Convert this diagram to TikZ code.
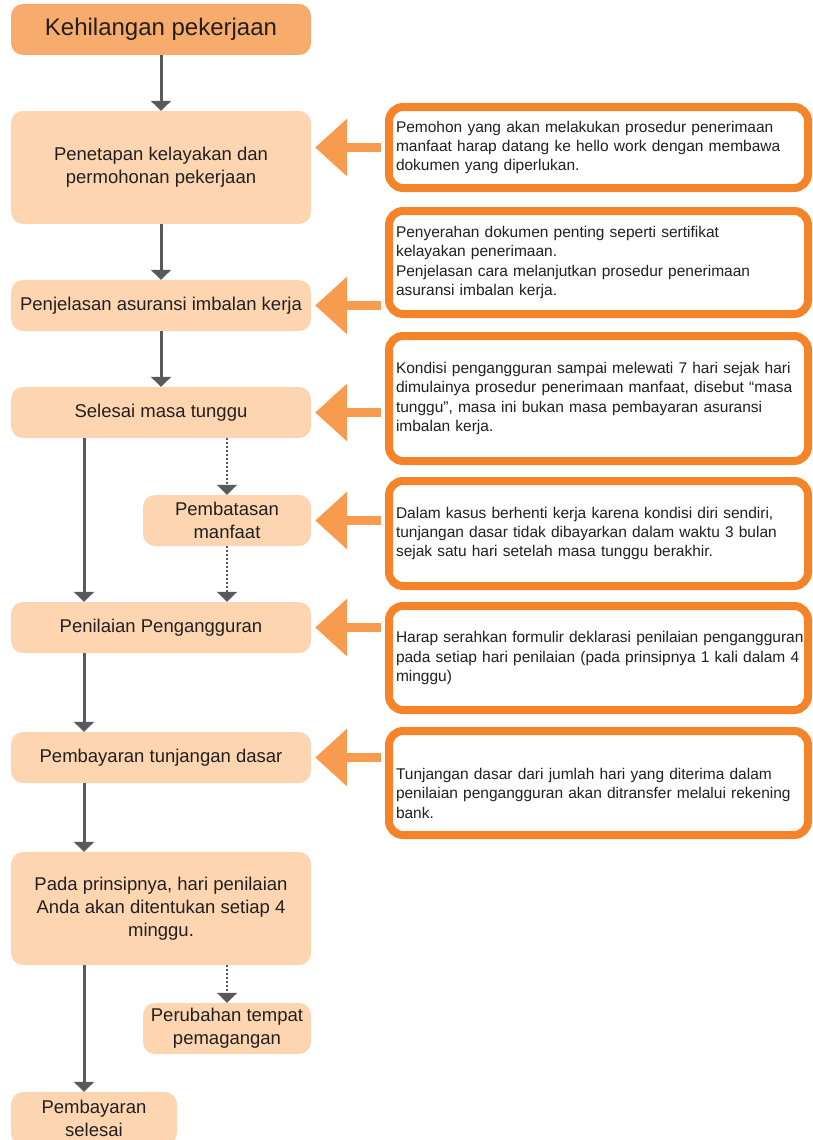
\documentclass[tikz,border=0pt]{standalone}
\usepackage{fontspec}
\setmainfont{Liberation Sans}
\usepackage{tikz}
\usetikzlibrary{positioning,arrows.meta,calc}
\definecolor{hwpeach}{HTML}{FDD6B1}
\definecolor{hwtitle}{HTML}{F7AB6C}
\definecolor{hworange}{HTML}{F4832A}
\definecolor{hwarrow}{HTML}{F79B4F}
\definecolor{hwgrey}{HTML}{58595B}
\definecolor{hwtext}{HTML}{231F20}

\begin{document}
\begin{tikzpicture}[x=1pt, y=-1pt,
   stage/.style={fill=hwpeach, rounded corners=12pt, minimum width=300pt,
                 minimum height=51pt, align=center, text=hwtext, inner sep=2pt,
                 font=\fontsize{18.5}{23}\selectfont},
   side/.style={stage, minimum width=168pt},
   head/.style={stage, fill=hwtitle, font=\fontsize{24}{28}\selectfont},
   note/.style={draw=hworange, line width=8pt, fill=white, rounded corners=14pt,
                minimum width=419pt, inner xsep=7pt, text width=405pt,
                align=left, text=hwtext, font=\fontsize{15.5}{19.3}\selectfont},
   flow/.style={hwgrey, line width=3pt, -{Triangle[length=10pt,width=20pt]}},
   maybe/.style={flow, line width=2pt, dash pattern=on 2pt off 2pt},
   call/.style={hwarrow, line width=9pt, shorten <=4pt, shorten >=4pt,
                -{Triangle[length=32pt,width=56pt]}}]
  \useasboundingbox (0,0) rectangle (812,1140);
  \coordinate (lane) at (84,0);

  % left column
  \node[head] (keh) at (161,29.5) {Kehilangan pekerjaan};
  \node[stage, minimum height=113pt] (pen) at (161,167.5) {Penetapan kelayakan dan\\permohonan pekerjaan};
  \node[stage] (penj) at (161,305.5) {Penjelasan asuransi imbalan kerja};
  \node[stage] (sel) at (161,412.5) {Selesai masa tunggu};
  \node[side] (bat) at (227,520.5) {Pembatasan\\manfaat};
  \node[stage] (nil) at (161,627.5) {Penilaian Pengangguran};
  \node[stage] (bay) at (161,757.5) {Pembayaran tunjangan dasar};
  \node[stage, minimum height=113pt] (pada) at (161,908.5) {Pada prinsipnya, hari penilaian\\Anda akan ditentukan setiap 4\\minggu.};
  \node[side] (ubah) at (227,1028.5) {Perubahan tempat\\pemagangan};
  \node[stage, minimum width=166pt, minimum height=53pt] (done) at (94,1118.5) {Pembayaran\\selesai};

  % right column
  \node[note, minimum height=81pt] (n1) at (598.5,147.5) {Pemohon yang akan melakukan prosedur penerimaan\\manfaat harap datang ke hello work dengan membawa\\dokumen yang diperlukan.};
  \node[note, minimum height=103pt] (n2) at (598.5,262.5) {Penyerahan dokumen penting seperti sertifikat\\kelayakan penerimaan.\\Penjelasan cara melanjutkan prosedur penerimaan\\asuransi imbalan kerja.};
  \node[note, minimum height=125pt] (n3) at (598.5,398.5) {Kondisi pengangguran sampai melewati 7 hari sejak hari\\dimulainya prosedur penerimaan manfaat, disebut “masa\\tunggu”, masa ini bukan masa pembayaran asuransi\\imbalan kerja.};
  \node[note, minimum height=105pt] (n4) at (598.5,533.5) {Dalam kasus berhenti kerja karena kondisi diri sendiri,\\tunjangan dasar tidak dibayarkan dalam waktu 3 bulan\\sejak satu hari setelah masa tunggu berakhir.};
  \node[note, minimum height=104pt] (n5) at (598.5,658) {\mbox{Harap serahkan formulir deklarasi penilaian pengangguran}\\pada setiap hari penilaian (pada prinsipnya 1 kali dalam 4\\minggu)};
  \node[note, minimum height=104pt, text depth=18pt] (n6) at (598.5,783) {Tunjangan dasar dari jumlah hari yang diterima dalam\\penilaian pengangguran akan ditransfer melalui rekening\\bank.};

  % main flow
  \draw[flow] (keh) -- (pen);
  \draw[flow] (pen) -- (penj);
  \draw[flow] (penj) -- (sel);
  \draw[flow] (sel.south -| lane) -- (nil.north -| lane);
  \draw[flow] (nil.south -| lane) -- (bay.north -| lane);
  \draw[flow] (bay.south -| lane) -- (pada.north -| lane);
  \draw[flow] (pada.south -| lane) -- (done.north -| lane);
  % optional branches
  \draw[maybe] (sel.south -| bat) -- (bat);
  \draw[maybe] (bat) -- (nil.north -| bat);
  \draw[maybe] (pada.south -| ubah) -- (ubah);

  % callouts
  \draw[call] (n1.west) -- (pen.east |- n1.west);
  \draw[call] (n2.west |- penj.east) -- (penj.east);
  \draw[call] (n3.west |- sel.east) -- (sel.east);
  \draw[call] (n4.west |- bat.east) -- (bat.east);
  \draw[call] (n5.west |- nil.east) -- (nil.east);
  \draw[call] (n6.west |- bay.east) -- (bay.east);
\end{tikzpicture}
\end{document}
